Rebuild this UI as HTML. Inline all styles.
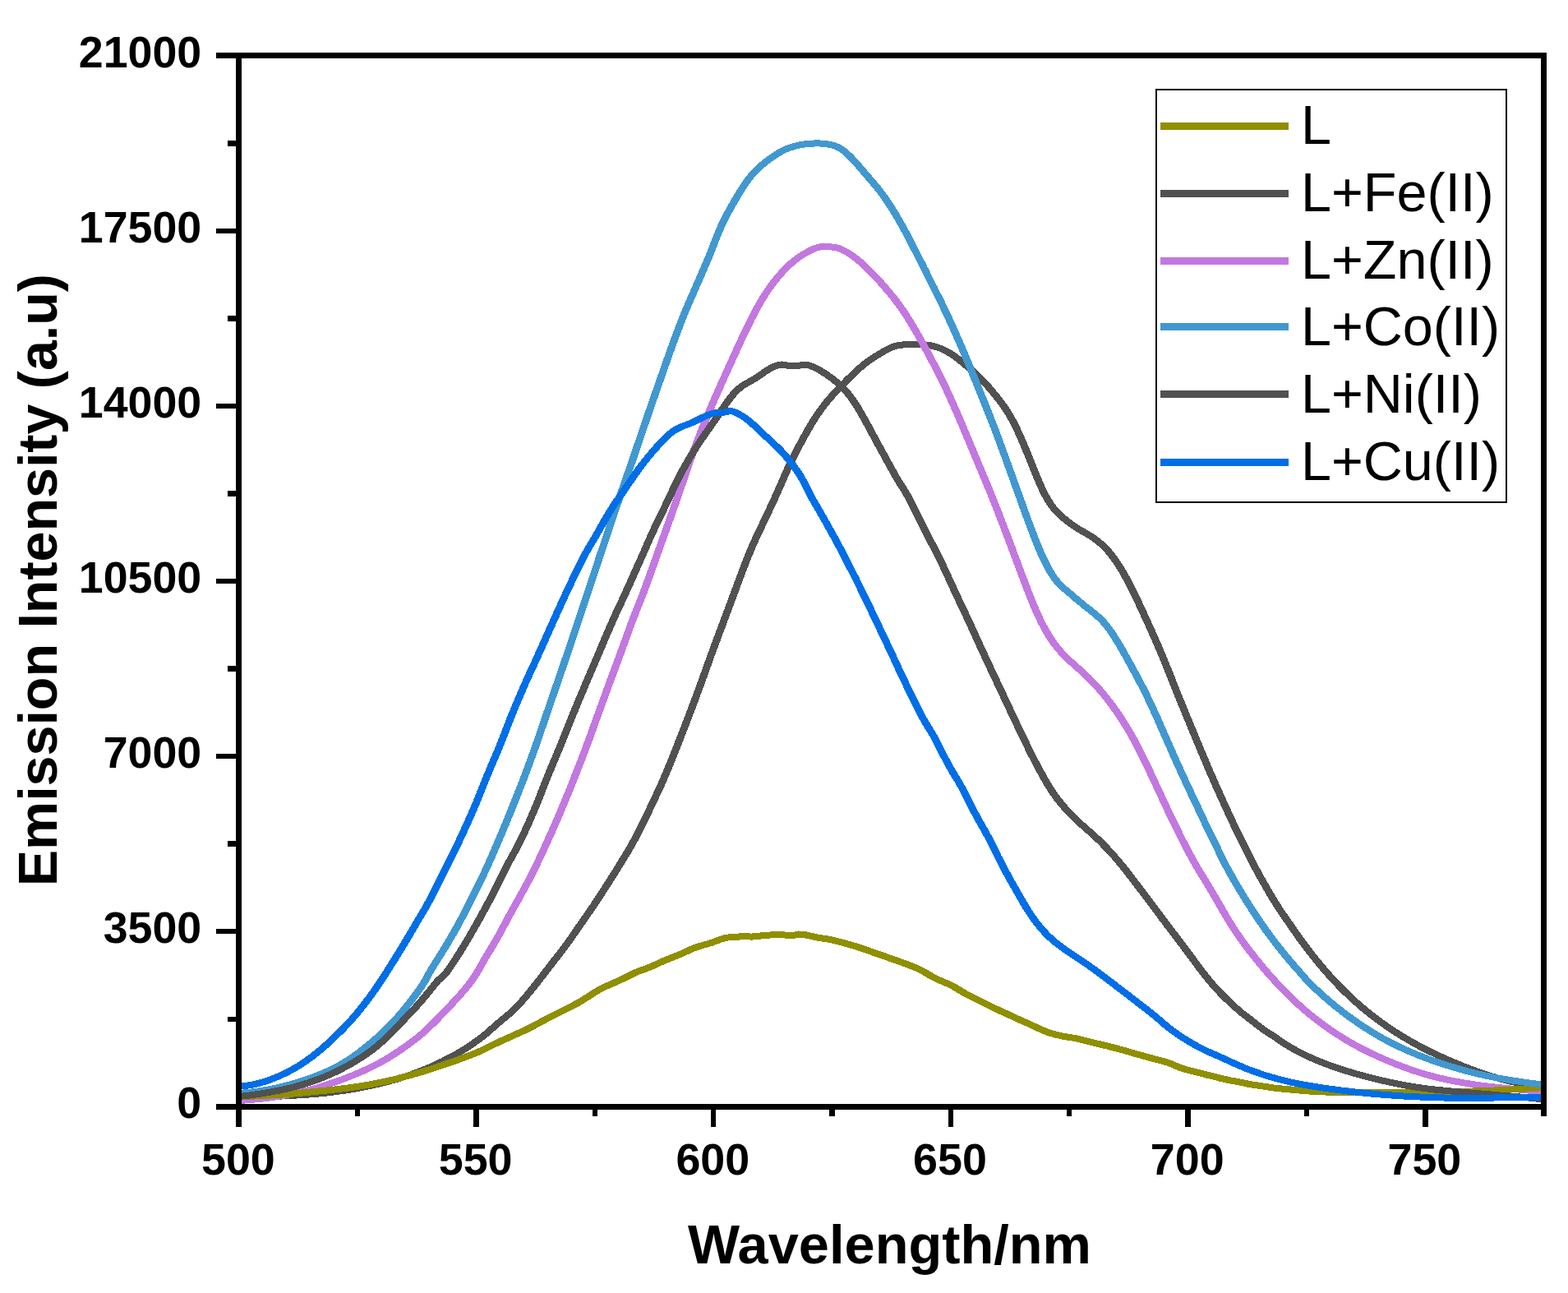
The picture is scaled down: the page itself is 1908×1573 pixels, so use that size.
<!DOCTYPE html>
<html lang="en">
<head>
<meta charset="utf-8">
<title>Emission spectra</title>
<style>
html,body{margin:0;padding:0;background:#fff;}
body{width:1908px;height:1573px;}
svg{display:block;}
text{font-family:"Liberation Sans",sans-serif;fill:#000;}
.tk{font-weight:bold;font-size:53.2px;}
.ttl{font-weight:bold;font-size:66px;}
.lg{font-size:66px;}
</style>
</head>
<body>
<svg width="1908" height="1573" viewBox="0 0 1908 1573" role="img" aria-label="Emission spectra of L and its metal complexes">
<rect width="1908" height="1573" fill="#fff"/>
<defs><clipPath id="pc"><rect x="290.7" y="67.7" width="1587.9" height="1282.6"/></clipPath></defs>
<g clip-path="url(#pc)" shape-rendering="crispEdges"><g transform="scale(1.1375 1)" fill="none" stroke-width="8.0" stroke-linejoin="round" stroke-linecap="butt">
<polyline stroke="#515151" points="250.29,1336.1 252.82,1336.2 255.36,1336.2 257.90,1336.2 260.44,1336.1 262.98,1335.8 265.51,1335.6 268.05,1335.4 270.59,1335.3 273.13,1335.1 275.67,1334.9 278.20,1334.8 280.74,1334.6 283.28,1334.5 285.82,1334.3 288.36,1334.2 290.90,1334.1 293.43,1333.9 295.97,1333.8 298.51,1333.7 301.05,1333.5 303.59,1333.4 306.12,1333.2 308.66,1333.1 311.20,1332.9 313.74,1332.8 316.28,1332.6 318.81,1332.4 321.35,1332.2 323.89,1332.0 326.43,1331.8 328.97,1331.6 331.50,1331.4 334.04,1331.2 336.58,1330.9 339.12,1330.7 341.66,1330.4 344.20,1330.1 346.73,1329.8 349.27,1329.5 351.81,1329.2 354.35,1328.9 356.89,1328.5 359.42,1328.1 361.96,1327.7 364.50,1327.3 367.04,1326.9 369.58,1326.5 372.11,1326.0 374.65,1325.6 377.19,1325.1 379.73,1324.6 382.27,1324.1 384.81,1323.5 387.34,1323.0 389.88,1322.4 392.42,1321.8 394.96,1321.2 397.50,1320.6 400.03,1319.9 402.57,1319.3 405.11,1318.6 407.65,1317.9 410.19,1317.2 412.72,1316.5 415.26,1315.7 417.80,1314.9 420.34,1314.1 422.88,1313.3 425.41,1312.5 427.95,1311.6 430.49,1310.7 433.03,1309.8 435.57,1308.8 438.11,1307.9 440.64,1306.9 443.18,1305.8 445.72,1304.8 448.26,1303.7 450.80,1302.6 453.33,1301.4 455.87,1300.2 458.41,1299.0 460.95,1297.8 463.49,1296.5 466.02,1295.2 468.56,1293.8 471.10,1292.4 473.64,1291.0 476.18,1289.4 478.71,1287.9 481.25,1286.4 483.79,1284.8 486.33,1283.4 488.87,1281.9 491.41,1280.3 493.94,1278.5 496.48,1276.7 499.02,1274.9 501.56,1273.0 504.10,1271.0 506.63,1269.1 509.17,1267.0 511.71,1265.0 514.25,1262.8 516.79,1260.6 519.32,1258.2 521.86,1255.8 524.40,1253.3 526.94,1250.7 529.48,1248.2 532.02,1245.6 534.55,1243.1 537.09,1240.7 539.63,1238.3 542.17,1235.9 544.71,1233.5 547.24,1230.9 549.78,1228.2 552.32,1225.3 554.86,1222.3 557.40,1219.2 559.93,1215.9 562.47,1212.6 565.01,1209.1 567.55,1205.5 570.09,1202.0 572.62,1198.3 575.16,1194.7 577.70,1191.0 580.24,1187.3 582.78,1183.5 585.32,1179.8 587.85,1176.0 590.39,1172.2 592.93,1168.5 595.47,1164.8 598.01,1161.1 600.54,1157.4 603.08,1153.6 605.62,1149.7 608.16,1145.8 610.70,1141.7 613.23,1137.5 615.77,1133.3 618.31,1129.1 620.85,1124.9 623.39,1120.8 625.92,1116.6 628.46,1112.5 631.00,1108.4 633.54,1104.2 636.08,1099.9 638.62,1095.5 641.15,1091.0 643.69,1086.6 646.23,1082.1 648.77,1077.6 651.31,1073.1 653.84,1068.6 656.38,1064.0 658.92,1059.4 661.46,1054.7 664.00,1050.0 666.53,1045.3 669.07,1040.6 671.61,1035.9 674.15,1031.0 676.69,1025.8 679.22,1020.5 681.76,1015.0 684.30,1009.4 686.84,1003.7 689.38,997.8 691.92,991.8 694.45,985.7 696.99,979.6 699.53,973.4 702.07,967.3 704.61,961.2 707.14,954.9 709.68,948.4 712.22,941.6 714.76,934.7 717.30,927.6 719.83,920.5 722.37,913.2 724.91,905.9 727.45,898.6 729.99,891.2 732.53,883.8 735.06,876.3 737.60,868.7 740.14,861.1 742.68,853.4 745.22,845.6 747.75,837.8 750.29,829.9 752.83,821.9 755.37,813.9 757.91,805.8 760.44,797.8 762.98,789.9 765.52,782.1 768.06,774.3 770.60,766.6 773.13,758.9 775.67,751.2 778.21,743.5 780.75,735.8 783.29,728.0 785.83,720.2 788.36,712.4 790.90,704.6 793.44,696.9 795.98,689.3 798.52,681.9 801.05,674.7 803.59,667.7 806.13,661.1 808.67,654.7 811.21,648.5 813.74,642.4 816.28,636.4 818.82,630.3 821.36,624.2 823.90,618.1 826.43,611.9 828.97,605.6 831.51,599.2 834.05,592.7 836.59,586.0 839.13,579.4 841.66,572.9 844.20,566.6 846.74,560.6 849.28,554.8 851.82,549.2 854.35,543.7 856.89,538.3 859.43,533.0 861.97,527.7 864.51,522.6 867.04,517.6 869.58,512.8 872.12,508.2 874.66,503.9 877.20,499.8 879.73,495.9 882.27,492.1 884.81,488.5 887.35,485.0 889.89,481.7 892.43,478.4 894.96,475.3 897.50,472.3 900.04,469.3 902.58,466.4 905.12,463.5 907.65,460.6 910.19,457.8 912.73,455.0 915.27,452.3 917.81,449.6 920.34,447.1 922.88,444.6 925.42,442.3 927.96,440.1 930.50,438.0 933.04,436.1 935.57,434.2 938.11,432.5 940.65,430.7 943.19,429.0 945.73,427.3 948.26,425.7 950.80,424.2 953.34,422.8 955.88,421.7 958.42,420.7 960.95,420.1 963.49,419.7 966.03,419.5 968.57,419.2 971.11,418.9 973.64,418.7 976.18,418.7 978.72,418.8 981.26,419.0 983.80,419.1 986.34,419.3 988.87,419.4 991.41,419.6 993.95,420.0 996.49,420.6 999.03,421.3 1001.56,422.1 1004.10,423.0 1006.64,424.1 1009.18,425.4 1011.72,426.8 1014.25,428.4 1016.79,430.1 1019.33,432.0 1021.87,434.0 1024.41,436.2 1026.94,438.5 1029.48,440.8 1032.02,443.2 1034.56,445.6 1037.10,448.1 1039.64,450.6 1042.17,453.2 1044.71,455.8 1047.25,458.5 1049.79,461.4 1052.33,464.4 1054.86,467.5 1057.40,470.8 1059.94,474.1 1062.48,477.6 1065.02,481.1 1067.55,484.7 1070.09,488.4 1072.63,492.3 1075.17,496.4 1077.71,500.8 1080.25,505.6 1082.78,510.8 1085.32,516.3 1087.86,522.2 1090.40,528.4 1092.94,534.9 1095.47,541.7 1098.01,548.6 1100.55,555.8 1103.09,563.0 1105.63,570.3 1108.16,577.4 1110.70,584.3 1113.24,590.9 1115.78,597.1 1118.32,602.8 1120.85,607.9 1123.39,612.5 1125.93,616.6 1128.47,620.1 1131.01,623.3 1133.55,626.1 1136.08,628.7 1138.62,631.1 1141.16,633.5 1143.70,635.7 1146.24,637.8 1148.77,639.8 1151.31,641.8 1153.85,643.6 1156.39,645.3 1158.93,647.0 1161.46,648.6 1164.00,650.4 1166.54,652.1 1169.08,654.0 1171.62,656.1 1174.15,658.2 1176.69,660.6 1179.23,663.1 1181.77,665.9 1184.31,668.9 1186.85,672.2 1189.38,675.8 1191.92,679.7 1194.46,683.8 1197.00,688.2 1199.54,692.8 1202.07,697.7 1204.61,702.9 1207.15,708.2 1209.69,713.8 1212.23,719.6 1214.76,725.6 1217.30,731.7 1219.84,737.8 1222.38,744.1 1224.92,750.4 1227.45,756.7 1229.99,763.0 1232.53,769.4 1235.07,775.9 1237.61,782.5 1240.15,789.2 1242.68,796.0 1245.22,803.0 1247.76,810.1 1250.30,817.3 1252.84,824.5 1255.37,831.8 1257.91,839.0 1260.45,846.3 1262.99,853.4 1265.53,860.5 1268.06,867.5 1270.60,874.5 1273.14,881.5 1275.68,888.5 1278.22,895.4 1280.76,902.4 1283.29,909.3 1285.83,916.3 1288.37,923.1 1290.91,930.0 1293.45,936.7 1295.98,943.4 1298.52,950.0 1301.06,956.5 1303.60,962.9 1306.14,969.3 1308.67,975.7 1311.21,982.0 1313.75,988.3 1316.29,994.6 1318.83,1000.8 1321.36,1006.9 1323.90,1012.9 1326.44,1018.9 1328.98,1024.8 1331.52,1030.6 1334.06,1036.3 1336.59,1042.0 1339.13,1047.6 1341.67,1053.1 1344.21,1058.4 1346.75,1063.7 1349.28,1069.0 1351.82,1074.1 1354.36,1079.2 1356.90,1084.1 1359.44,1089.1 1361.97,1093.9 1364.51,1098.6 1367.05,1103.2 1369.59,1107.7 1372.13,1111.9 1374.66,1116.0 1377.20,1120.1 1379.74,1124.3 1382.28,1128.5 1384.82,1132.7 1387.36,1136.8 1389.89,1140.9 1392.43,1144.8 1394.97,1148.8 1397.51,1152.6 1400.05,1156.4 1402.58,1160.1 1405.12,1163.8 1407.66,1167.4 1410.20,1170.9 1412.74,1174.4 1415.27,1177.8 1417.81,1181.2 1420.35,1184.5 1422.89,1187.7 1425.43,1190.9 1427.96,1194.0 1430.50,1197.1 1433.04,1200.1 1435.58,1203.0 1438.12,1205.9 1440.66,1208.7 1443.19,1211.4 1445.73,1214.1 1448.27,1216.8 1450.81,1219.4 1453.35,1221.9 1455.88,1224.4 1458.42,1226.9 1460.96,1229.3 1463.50,1231.6 1466.04,1233.9 1468.57,1236.2 1471.11,1238.4 1473.65,1240.5 1476.19,1242.6 1478.73,1244.7 1481.27,1246.8 1483.80,1248.8 1486.34,1250.7 1488.88,1252.7 1491.42,1254.6 1493.96,1256.4 1496.49,1258.3 1499.03,1260.1 1501.57,1261.8 1504.11,1263.5 1506.65,1265.2 1509.18,1266.9 1511.72,1268.5 1514.26,1270.1 1516.80,1271.7 1519.34,1273.3 1521.87,1274.8 1524.41,1276.2 1526.95,1277.7 1529.49,1279.1 1532.03,1280.5 1534.57,1281.9 1537.10,1283.3 1539.64,1284.6 1542.18,1285.9 1544.72,1287.2 1547.26,1288.5 1549.79,1289.8 1552.33,1291.0 1554.87,1292.2 1557.41,1293.4 1559.95,1294.6 1562.48,1295.8 1565.02,1297.0 1567.56,1298.1 1570.10,1299.2 1572.64,1300.3 1575.17,1301.4 1577.71,1302.5 1580.25,1303.5 1582.79,1304.5 1585.33,1305.5 1587.87,1306.5 1590.40,1307.5 1592.94,1308.4 1595.48,1309.3 1598.02,1310.2 1600.56,1311.0 1603.09,1311.8 1605.63,1312.6 1608.17,1313.4 1610.71,1314.1 1613.25,1314.8 1615.78,1315.5 1618.32,1316.2 1620.86,1316.8 1623.40,1317.5 1625.94,1318.1 1628.48,1318.7 1631.01,1319.3 1633.55,1319.9 1636.09,1320.5 1638.63,1321.0 1641.17,1321.6 1643.70,1322.2 1646.24,1322.8 1648.78,1323.4 1651.32,1323.8 1653.86,1323.8 1656.39,1323.6"/>
<polyline stroke="#C278E0" points="250.29,1338.8 252.82,1338.8 255.36,1338.8 257.90,1338.8 260.44,1338.7 262.98,1338.4 265.51,1338.2 268.05,1337.9 270.59,1337.7 273.13,1337.4 275.67,1337.1 278.20,1336.8 280.74,1336.5 283.28,1336.1 285.82,1335.8 288.36,1335.4 290.90,1335.0 293.43,1334.6 295.97,1334.1 298.51,1333.7 301.05,1333.2 303.59,1332.7 306.12,1332.2 308.66,1331.6 311.20,1331.1 313.74,1330.5 316.28,1329.9 318.81,1329.2 321.35,1328.6 323.89,1327.9 326.43,1327.2 328.97,1326.5 331.50,1325.7 334.04,1325.0 336.58,1324.2 339.12,1323.4 341.66,1322.5 344.20,1321.6 346.73,1320.7 349.27,1319.8 351.81,1318.9 354.35,1317.9 356.89,1316.9 359.42,1315.9 361.96,1314.9 364.50,1313.8 367.04,1312.8 369.58,1311.7 372.11,1310.6 374.65,1309.4 377.19,1308.3 379.73,1307.1 382.27,1305.9 384.81,1304.6 387.34,1303.4 389.88,1302.1 392.42,1300.8 394.96,1299.4 397.50,1298.0 400.03,1296.6 402.57,1295.1 405.11,1293.5 407.65,1292.0 410.19,1290.3 412.72,1288.7 415.26,1287.0 417.80,1285.2 420.34,1283.4 422.88,1281.5 425.41,1279.6 427.95,1277.7 430.49,1275.7 433.03,1273.7 435.57,1271.6 438.11,1269.5 440.64,1267.4 443.18,1265.2 445.72,1263.0 448.26,1260.6 450.80,1258.2 453.33,1255.7 455.87,1253.1 458.41,1250.4 460.95,1247.6 463.49,1244.8 466.02,1241.9 468.56,1239.0 471.10,1236.0 473.64,1233.0 476.18,1230.0 478.71,1226.9 481.25,1223.8 483.79,1220.7 486.33,1217.6 488.87,1214.5 491.41,1211.4 493.94,1208.1 496.48,1204.8 499.02,1201.3 501.56,1197.6 504.10,1193.8 506.63,1189.7 509.17,1185.2 511.71,1180.4 514.25,1175.3 516.79,1170.2 519.32,1165.2 521.86,1160.4 524.40,1155.7 526.94,1150.9 529.48,1146.0 532.02,1140.9 534.55,1135.7 537.09,1130.3 539.63,1124.9 542.17,1119.5 544.71,1114.1 547.24,1108.9 549.78,1103.7 552.32,1098.6 554.86,1093.5 557.40,1088.3 559.93,1083.0 562.47,1077.7 565.01,1072.2 567.55,1066.6 570.09,1060.9 572.62,1055.1 575.16,1049.1 577.70,1043.1 580.24,1036.9 582.78,1030.6 585.32,1024.3 587.85,1017.9 590.39,1011.4 592.93,1004.9 595.47,998.3 598.01,991.6 600.54,984.8 603.08,977.9 605.62,970.9 608.16,963.9 610.70,956.7 613.23,949.5 615.77,942.2 618.31,934.9 620.85,927.5 623.39,920.0 625.92,912.4 628.46,904.6 631.00,896.8 633.54,888.8 636.08,880.7 638.62,872.7 641.15,864.7 643.69,856.8 646.23,848.8 648.77,840.9 651.31,833.1 653.84,825.3 656.38,817.5 658.92,809.8 661.46,802.0 664.00,794.2 666.53,786.2 669.07,778.2 671.61,770.2 674.15,762.4 676.69,754.6 679.22,747.2 681.76,739.9 684.30,732.7 686.84,725.3 689.38,717.8 691.92,709.9 694.45,702.0 696.99,693.9 699.53,685.8 702.07,677.7 704.61,669.6 707.14,661.5 709.68,653.5 712.22,645.4 714.76,637.3 717.30,629.3 719.83,621.2 722.37,613.0 724.91,604.7 727.45,596.3 729.99,587.8 732.53,579.2 735.06,570.7 737.60,562.5 740.14,554.5 742.68,546.7 745.22,539.0 747.75,531.5 750.29,524.1 752.83,516.9 755.37,509.7 757.91,502.7 760.44,495.9 762.98,489.1 765.52,482.5 768.06,475.9 770.60,469.5 773.13,463.1 775.67,456.7 778.21,450.3 780.75,444.0 783.29,437.6 785.83,431.2 788.36,424.8 790.90,418.5 793.44,412.3 795.98,406.2 798.52,400.2 801.05,394.2 803.59,388.4 806.13,382.7 808.67,377.3 811.21,372.0 813.74,367.0 816.28,362.2 818.82,357.6 821.36,353.3 823.90,349.2 826.43,345.3 828.97,341.6 831.51,338.0 834.05,334.6 836.59,331.3 839.13,328.2 841.66,325.3 844.20,322.5 846.74,319.9 849.28,317.5 851.82,315.3 854.35,313.2 856.89,311.2 859.43,309.4 861.97,307.7 864.51,306.1 867.04,304.6 869.58,303.2 872.12,302.0 874.66,301.1 877.20,300.5 879.73,300.3 882.27,300.3 884.81,300.4 887.35,300.4 889.89,300.5 892.43,300.8 894.96,301.3 897.50,302.2 900.04,303.3 902.58,304.7 905.12,306.2 907.65,307.9 910.19,309.8 912.73,311.8 915.27,314.0 917.81,316.4 920.34,318.8 922.88,321.4 925.42,324.1 927.96,326.8 930.50,329.6 933.04,332.5 935.57,335.5 938.11,338.6 940.65,341.7 943.19,345.0 945.73,348.3 948.26,351.7 950.80,355.1 953.34,358.6 955.88,362.2 958.42,365.9 960.95,369.7 963.49,373.7 966.03,377.9 968.57,382.2 971.11,386.7 973.64,391.4 976.18,396.2 978.72,401.0 981.26,406.0 983.80,411.1 986.34,416.3 988.87,421.6 991.41,426.9 993.95,432.3 996.49,437.7 999.03,443.2 1001.56,448.7 1004.10,454.3 1006.64,460.0 1009.18,465.9 1011.72,472.0 1014.25,478.2 1016.79,484.5 1019.33,490.9 1021.87,497.5 1024.41,504.2 1026.94,510.9 1029.48,517.7 1032.02,524.5 1034.56,531.4 1037.10,538.2 1039.64,545.1 1042.17,552.1 1044.71,559.0 1047.25,566.0 1049.79,572.9 1052.33,579.8 1054.86,586.7 1057.40,593.6 1059.94,600.7 1062.48,607.8 1065.02,615.1 1067.55,622.4 1070.09,629.9 1072.63,637.3 1075.17,644.9 1077.71,652.5 1080.25,660.2 1082.78,668.0 1085.32,675.7 1087.86,683.4 1090.40,691.2 1092.94,698.9 1095.47,706.5 1098.01,714.1 1100.55,721.6 1103.09,728.8 1105.63,735.9 1108.16,742.6 1110.70,749.1 1113.24,755.2 1115.78,760.9 1118.32,766.2 1120.85,771.2 1123.39,775.9 1125.93,780.2 1128.47,784.1 1131.01,787.8 1133.55,791.3 1136.08,794.5 1138.62,797.5 1141.16,800.4 1143.70,803.1 1146.24,805.8 1148.77,808.4 1151.31,810.9 1153.85,813.5 1156.39,816.0 1158.93,818.7 1161.46,821.4 1164.00,824.1 1166.54,827.0 1169.08,830.0 1171.62,833.0 1174.15,836.2 1176.69,839.5 1179.23,842.9 1181.77,846.4 1184.31,850.0 1186.85,853.7 1189.38,857.6 1191.92,861.6 1194.46,865.7 1197.00,869.9 1199.54,874.3 1202.07,878.8 1204.61,883.5 1207.15,888.2 1209.69,893.2 1212.23,898.3 1214.76,903.7 1217.30,909.1 1219.84,914.8 1222.38,920.6 1224.92,926.5 1227.45,932.5 1229.99,938.6 1232.53,944.8 1235.07,951.0 1237.61,957.2 1240.15,963.4 1242.68,969.6 1245.22,975.8 1247.76,982.0 1250.30,988.1 1252.84,994.1 1255.37,1000.1 1257.91,1006.1 1260.45,1011.9 1262.99,1017.8 1265.53,1023.5 1268.06,1029.1 1270.60,1034.6 1273.14,1040.0 1275.68,1045.3 1278.22,1050.4 1280.76,1055.3 1283.29,1060.2 1285.83,1064.9 1288.37,1069.6 1290.91,1074.3 1293.45,1079.1 1295.98,1083.9 1298.52,1088.9 1301.06,1093.8 1303.60,1098.8 1306.14,1103.8 1308.67,1108.8 1311.21,1113.8 1313.75,1118.6 1316.29,1123.3 1318.83,1127.9 1321.36,1132.4 1323.90,1136.6 1326.44,1140.8 1328.98,1144.8 1331.52,1148.7 1334.06,1152.6 1336.59,1156.4 1339.13,1160.1 1341.67,1163.8 1344.21,1167.4 1346.75,1170.9 1349.28,1174.4 1351.82,1177.9 1354.36,1181.3 1356.90,1184.7 1359.44,1187.9 1361.97,1191.1 1364.51,1194.2 1367.05,1197.1 1369.59,1200.2 1372.13,1203.2 1374.66,1206.2 1377.20,1209.1 1379.74,1212.0 1382.28,1214.8 1384.82,1217.6 1387.36,1220.3 1389.89,1223.0 1392.43,1225.6 1394.97,1228.2 1397.51,1230.6 1400.05,1233.0 1402.58,1235.4 1405.12,1237.6 1407.66,1239.9 1410.20,1242.1 1412.74,1244.3 1415.27,1246.4 1417.81,1248.5 1420.35,1250.5 1422.89,1252.6 1425.43,1254.5 1427.96,1256.5 1430.50,1258.4 1433.04,1260.2 1435.58,1262.1 1438.12,1263.9 1440.66,1265.6 1443.19,1267.3 1445.73,1269.0 1448.27,1270.6 1450.81,1272.2 1453.35,1273.8 1455.88,1275.3 1458.42,1276.8 1460.96,1278.2 1463.50,1279.7 1466.04,1281.1 1468.57,1282.4 1471.11,1283.8 1473.65,1285.1 1476.19,1286.4 1478.73,1287.7 1481.27,1288.9 1483.80,1290.1 1486.34,1291.4 1488.88,1292.5 1491.42,1293.7 1493.96,1294.9 1496.49,1296.0 1499.03,1297.1 1501.57,1298.2 1504.11,1299.2 1506.65,1300.3 1509.18,1301.3 1511.72,1302.3 1514.26,1303.2 1516.80,1304.1 1519.34,1305.1 1521.87,1305.9 1524.41,1306.8 1526.95,1307.6 1529.49,1308.4 1532.03,1309.2 1534.57,1310.0 1537.10,1310.7 1539.64,1311.4 1542.18,1312.1 1544.72,1312.7 1547.26,1313.4 1549.79,1314.0 1552.33,1314.6 1554.87,1315.1 1557.41,1315.7 1559.95,1316.2 1562.48,1316.7 1565.02,1317.2 1567.56,1317.7 1570.10,1318.2 1572.64,1318.6 1575.17,1319.1 1577.71,1319.5 1580.25,1319.9 1582.79,1320.3 1585.33,1320.7 1587.87,1321.1 1590.40,1321.4 1592.94,1321.8 1595.48,1322.1 1598.02,1322.4 1600.56,1322.8 1603.09,1323.1 1605.63,1323.4 1608.17,1323.7 1610.71,1323.9 1613.25,1324.2 1615.78,1324.5 1618.32,1324.8 1620.86,1325.0 1623.40,1325.3 1625.94,1325.6 1628.48,1325.8 1631.01,1326.1 1633.55,1326.4 1636.09,1326.7 1638.63,1326.9 1641.17,1327.2 1643.70,1327.5 1646.24,1327.8 1648.78,1328.1 1651.32,1328.4 1653.86,1328.4 1656.39,1328.4"/>
<polyline stroke="#8F8F00" points="250.29,1334.1 252.82,1334.0 255.36,1334.0 257.90,1334.0 260.44,1334.0 262.98,1333.9 265.51,1333.8 268.05,1333.7 270.59,1333.6 273.13,1333.5 275.67,1333.4 278.20,1333.2 280.74,1333.1 283.28,1332.9 285.82,1332.8 288.36,1332.6 290.90,1332.4 293.43,1332.3 295.97,1332.1 298.51,1331.9 301.05,1331.6 303.59,1331.4 306.12,1331.2 308.66,1330.9 311.20,1330.7 313.74,1330.5 316.28,1330.2 318.81,1329.9 321.35,1329.7 323.89,1329.4 326.43,1329.1 328.97,1328.8 331.50,1328.6 334.04,1328.3 336.58,1328.0 339.12,1327.7 341.66,1327.4 344.20,1327.1 346.73,1326.8 349.27,1326.5 351.81,1326.2 354.35,1325.9 356.89,1325.6 359.42,1325.3 361.96,1324.9 364.50,1324.6 367.04,1324.2 369.58,1323.9 372.11,1323.5 374.65,1323.1 377.19,1322.7 379.73,1322.3 382.27,1321.9 384.81,1321.5 387.34,1321.0 389.88,1320.5 392.42,1320.0 394.96,1319.5 397.50,1319.0 400.03,1318.4 402.57,1317.9 405.11,1317.3 407.65,1316.7 410.19,1316.1 412.72,1315.5 415.26,1314.8 417.80,1314.1 420.34,1313.5 422.88,1312.8 425.41,1312.1 427.95,1311.3 430.49,1310.6 433.03,1309.8 435.57,1309.1 438.11,1308.3 440.64,1307.5 443.18,1306.7 445.72,1305.9 448.26,1305.0 450.80,1304.2 453.33,1303.3 455.87,1302.4 458.41,1301.5 460.95,1300.6 463.49,1299.6 466.02,1298.6 468.56,1297.6 471.10,1296.7 473.64,1295.7 476.18,1294.7 478.71,1293.7 481.25,1292.7 483.79,1291.7 486.33,1290.7 488.87,1289.7 491.41,1288.6 493.94,1287.6 496.48,1286.5 499.02,1285.4 501.56,1284.3 504.10,1283.2 506.63,1282.1 509.17,1280.9 511.71,1279.7 514.25,1278.4 516.79,1277.0 519.32,1275.7 521.86,1274.3 524.40,1272.8 526.94,1271.4 529.48,1270.0 532.02,1268.6 534.55,1267.2 537.09,1265.9 539.63,1264.6 542.17,1263.3 544.71,1262.0 547.24,1260.7 549.78,1259.4 552.32,1258.1 554.86,1256.8 557.40,1255.5 559.93,1254.2 562.47,1252.9 565.01,1251.5 567.55,1250.0 570.09,1248.5 572.62,1246.9 575.16,1245.3 577.70,1243.8 580.24,1242.2 582.78,1240.7 585.32,1239.2 587.85,1237.7 590.39,1236.3 592.93,1234.9 595.47,1233.4 598.01,1231.9 600.54,1230.5 603.08,1229.0 605.62,1227.6 608.16,1226.1 610.70,1224.7 613.23,1223.2 615.77,1221.6 618.31,1220.0 620.85,1218.4 623.39,1216.6 625.92,1214.8 628.46,1213.0 631.00,1211.1 633.54,1209.3 636.08,1207.4 638.62,1205.6 641.15,1203.9 643.69,1202.3 646.23,1200.9 648.77,1199.6 651.31,1198.4 653.84,1197.2 656.38,1195.9 658.92,1194.6 661.46,1193.3 664.00,1192.0 666.53,1190.7 669.07,1189.3 671.61,1187.8 674.15,1186.3 676.69,1184.9 679.22,1183.5 681.76,1182.2 684.30,1181.1 686.84,1180.0 689.38,1179.1 691.92,1178.0 694.45,1176.9 696.99,1175.7 699.53,1174.4 702.07,1173.1 704.61,1171.8 707.14,1170.5 709.68,1169.2 712.22,1168.0 714.76,1166.8 717.30,1165.7 719.83,1164.5 722.37,1163.3 724.91,1162.2 727.45,1161.0 729.99,1159.8 732.53,1158.5 735.06,1157.1 737.60,1155.7 740.14,1154.4 742.68,1153.3 745.22,1152.3 747.75,1151.4 750.29,1150.5 752.83,1149.6 755.37,1148.8 757.91,1148.0 760.44,1147.1 762.98,1146.1 765.52,1145.1 768.06,1143.9 770.60,1142.8 773.13,1141.9 775.67,1141.2 778.21,1140.6 780.75,1140.3 783.29,1140.2 785.83,1140.1 788.36,1139.9 790.90,1139.5 793.44,1139.1 795.98,1138.8 798.52,1139.0 801.05,1139.4 803.59,1139.6 806.13,1139.4 808.67,1139.1 811.21,1138.8 813.74,1138.5 816.28,1138.1 818.82,1137.8 821.36,1137.6 823.90,1137.5 826.43,1137.4 828.97,1137.4 831.51,1137.3 834.05,1137.4 836.59,1137.4 839.13,1137.5 841.66,1137.6 844.20,1137.7 846.74,1137.9 849.28,1137.8 851.82,1137.1 854.35,1136.5 856.89,1136.6 859.43,1137.0 861.97,1137.4 864.51,1138.0 867.04,1138.7 869.58,1139.3 872.12,1140.0 874.66,1140.6 877.20,1141.1 879.73,1141.5 882.27,1141.8 884.81,1142.3 887.35,1142.9 889.89,1143.5 892.43,1144.2 894.96,1144.9 897.50,1145.6 900.04,1146.4 902.58,1147.1 905.12,1147.9 907.65,1148.7 910.19,1149.6 912.73,1150.4 915.27,1151.3 917.81,1152.2 920.34,1153.1 922.88,1154.1 925.42,1155.1 927.96,1156.1 930.50,1157.1 933.04,1158.1 935.57,1159.2 938.11,1160.2 940.65,1161.2 943.19,1162.2 945.73,1163.2 948.26,1164.2 950.80,1165.2 953.34,1166.3 955.88,1167.3 958.42,1168.3 960.95,1169.3 963.49,1170.3 966.03,1171.3 968.57,1172.4 971.11,1173.5 973.64,1174.7 976.18,1175.8 978.72,1176.9 981.26,1178.1 983.80,1179.4 986.34,1180.9 988.87,1182.5 991.41,1184.2 993.95,1186.0 996.49,1187.7 999.03,1189.3 1001.56,1190.8 1004.10,1192.1 1006.64,1193.3 1009.18,1194.5 1011.72,1195.7 1014.25,1196.9 1016.79,1198.3 1019.33,1199.8 1021.87,1201.4 1024.41,1203.1 1026.94,1204.9 1029.48,1206.6 1032.02,1208.3 1034.56,1209.8 1037.10,1211.3 1039.64,1212.8 1042.17,1214.2 1044.71,1215.7 1047.25,1217.1 1049.79,1218.5 1052.33,1220.0 1054.86,1221.4 1057.40,1222.9 1059.94,1224.3 1062.48,1225.7 1065.02,1227.1 1067.55,1228.5 1070.09,1229.8 1072.63,1231.1 1075.17,1232.4 1077.71,1233.7 1080.25,1235.1 1082.78,1236.4 1085.32,1237.8 1087.86,1239.1 1090.40,1240.4 1092.94,1241.7 1095.47,1243.0 1098.01,1244.2 1100.55,1245.5 1103.09,1246.8 1105.63,1248.2 1108.16,1249.6 1110.70,1250.9 1113.24,1252.2 1115.78,1253.5 1118.32,1254.7 1120.85,1255.8 1123.39,1256.7 1125.93,1257.6 1128.47,1258.4 1131.01,1259.1 1133.55,1259.7 1136.08,1260.4 1138.62,1261.0 1141.16,1261.5 1143.70,1261.9 1146.24,1262.3 1148.77,1262.8 1151.31,1263.4 1153.85,1264.0 1156.39,1264.7 1158.93,1265.4 1161.46,1266.1 1164.00,1266.9 1166.54,1267.6 1169.08,1268.3 1171.62,1269.0 1174.15,1269.7 1176.69,1270.4 1179.23,1271.1 1181.77,1271.8 1184.31,1272.5 1186.85,1273.2 1189.38,1274.0 1191.92,1274.7 1194.46,1275.4 1197.00,1276.2 1199.54,1276.9 1202.07,1277.7 1204.61,1278.6 1207.15,1279.4 1209.69,1280.3 1212.23,1281.1 1214.76,1282.0 1217.30,1282.7 1219.84,1283.6 1222.38,1284.4 1224.92,1285.2 1227.45,1286.0 1229.99,1286.8 1232.53,1287.5 1235.07,1288.3 1237.61,1289.1 1240.15,1289.9 1242.68,1290.6 1245.22,1291.3 1247.76,1292.1 1250.30,1293.1 1252.84,1294.3 1255.37,1295.5 1257.91,1296.8 1260.45,1298.0 1262.99,1299.1 1265.53,1300.1 1268.06,1300.9 1270.60,1301.7 1273.14,1302.5 1275.68,1303.2 1278.22,1303.9 1280.76,1304.6 1283.29,1305.3 1285.83,1306.0 1288.37,1306.8 1290.91,1307.6 1293.45,1308.3 1295.98,1309.0 1298.52,1309.7 1301.06,1310.4 1303.60,1311.2 1306.14,1311.9 1308.67,1312.6 1311.21,1313.2 1313.75,1313.8 1316.29,1314.4 1318.83,1314.9 1321.36,1315.5 1323.90,1316.0 1326.44,1316.6 1328.98,1317.2 1331.52,1317.8 1334.06,1318.4 1336.59,1319.0 1339.13,1319.5 1341.67,1319.9 1344.21,1320.3 1346.75,1320.8 1349.28,1321.2 1351.82,1321.6 1354.36,1322.0 1356.90,1322.5 1359.44,1322.9 1361.97,1323.4 1364.51,1323.8 1367.05,1324.1 1369.59,1324.4 1372.13,1324.6 1374.66,1324.9 1377.20,1325.2 1379.74,1325.4 1382.28,1325.7 1384.82,1326.0 1387.36,1326.3 1389.89,1326.5 1392.43,1326.8 1394.97,1327.0 1397.51,1327.3 1400.05,1327.5 1402.58,1327.6 1405.12,1327.8 1407.66,1328.0 1410.20,1328.1 1412.74,1328.3 1415.27,1328.4 1417.81,1328.5 1420.35,1328.6 1422.89,1328.7 1425.43,1328.7 1427.96,1328.8 1430.50,1328.8 1433.04,1328.9 1435.58,1328.9 1438.12,1328.9 1440.66,1329.0 1443.19,1329.0 1445.73,1329.0 1448.27,1329.1 1450.81,1329.1 1453.35,1329.1 1455.88,1329.1 1458.42,1329.2 1460.96,1329.2 1463.50,1329.2 1466.04,1329.2 1468.57,1329.2 1471.11,1329.2 1473.65,1329.2 1476.19,1329.2 1478.73,1329.2 1481.27,1329.2 1483.80,1329.2 1486.34,1329.2 1488.88,1329.2 1491.42,1329.2 1493.96,1329.2 1496.49,1329.2 1499.03,1329.1 1501.57,1329.1 1504.11,1329.1 1506.65,1329.0 1509.18,1329.0 1511.72,1329.0 1514.26,1328.9 1516.80,1328.9 1519.34,1328.8 1521.87,1328.8 1524.41,1328.7 1526.95,1328.7 1529.49,1328.6 1532.03,1328.6 1534.57,1328.5 1537.10,1328.4 1539.64,1328.4 1542.18,1328.3 1544.72,1328.3 1547.26,1328.2 1549.79,1328.2 1552.33,1328.1 1554.87,1328.1 1557.41,1328.0 1559.95,1327.9 1562.48,1327.9 1565.02,1327.8 1567.56,1327.8 1570.10,1327.7 1572.64,1327.6 1575.17,1327.5 1577.71,1327.4 1580.25,1327.3 1582.79,1327.2 1585.33,1327.1 1587.87,1327.0 1590.40,1326.9 1592.94,1326.8 1595.48,1326.6 1598.02,1326.5 1600.56,1326.4 1603.09,1326.3 1605.63,1326.1 1608.17,1326.0 1610.71,1325.8 1613.25,1325.7 1615.78,1325.6 1618.32,1325.4 1620.86,1325.3 1623.40,1325.1 1625.94,1324.9 1628.48,1324.8 1631.01,1324.6 1633.55,1324.4 1636.09,1324.3 1638.63,1324.1 1641.17,1323.9 1643.70,1323.7 1646.24,1323.5 1648.78,1323.4 1651.32,1323.2 1653.86,1323.2 1656.39,1323.2"/>
<polyline stroke="#4198D0" points="250.29,1330.0 252.82,1329.9 255.36,1329.8 257.90,1329.7 260.44,1329.5 262.98,1329.3 265.51,1329.0 268.05,1328.7 270.59,1328.4 273.13,1328.0 275.67,1327.6 278.20,1327.2 280.74,1326.7 283.28,1326.2 285.82,1325.7 288.36,1325.2 290.90,1324.6 293.43,1324.0 295.97,1323.4 298.51,1322.7 301.05,1322.0 303.59,1321.3 306.12,1320.6 308.66,1319.8 311.20,1319.1 313.74,1318.2 316.28,1317.4 318.81,1316.6 321.35,1315.7 323.89,1314.7 326.43,1313.8 328.97,1312.8 331.50,1311.8 334.04,1310.7 336.58,1309.7 339.12,1308.5 341.66,1307.4 344.20,1306.2 346.73,1305.0 349.27,1303.7 351.81,1302.4 354.35,1301.0 356.89,1299.6 359.42,1298.1 361.96,1296.6 364.50,1295.0 367.04,1293.3 369.58,1291.6 372.11,1289.7 374.65,1287.9 377.19,1285.9 379.73,1283.9 382.27,1281.8 384.81,1279.6 387.34,1277.4 389.88,1275.1 392.42,1272.8 394.96,1270.4 397.50,1268.0 400.03,1265.6 402.57,1263.1 405.11,1260.5 407.65,1257.9 410.19,1255.2 412.72,1252.5 415.26,1249.6 417.80,1246.6 420.34,1243.6 422.88,1240.4 425.41,1237.2 427.95,1233.9 430.49,1230.5 433.03,1227.0 435.57,1223.5 438.11,1219.8 440.64,1216.1 443.18,1212.3 445.72,1208.4 448.26,1204.4 450.80,1200.2 453.33,1195.8 455.87,1190.9 458.41,1185.5 460.95,1180.3 463.49,1175.5 466.02,1170.9 468.56,1166.3 471.10,1161.8 473.64,1157.1 476.18,1152.4 478.71,1147.6 481.25,1142.7 483.79,1137.7 486.33,1132.7 488.87,1127.6 491.41,1122.3 493.94,1116.9 496.48,1111.4 499.02,1105.8 501.56,1100.2 504.10,1094.5 506.63,1088.8 509.17,1083.0 511.71,1077.1 514.25,1071.1 516.79,1065.1 519.32,1058.9 521.86,1052.6 524.40,1046.2 526.94,1039.6 529.48,1032.9 532.02,1026.2 534.55,1019.5 537.09,1012.6 539.63,1005.7 542.17,998.8 544.71,991.7 547.24,984.6 549.78,977.4 552.32,970.2 554.86,962.9 557.40,955.5 559.93,948.0 562.47,940.4 565.01,932.7 567.55,924.9 570.09,916.9 572.62,908.9 575.16,900.6 577.70,892.3 580.24,883.8 582.78,875.3 585.32,866.8 587.85,858.4 590.39,850.0 592.93,841.6 595.47,833.2 598.01,824.8 600.54,816.5 603.08,808.1 605.62,799.6 608.16,791.1 610.70,782.5 613.23,773.9 615.77,765.3 618.31,756.6 620.85,748.0 623.39,739.3 625.92,730.6 628.46,721.9 631.00,713.2 633.54,704.5 636.08,695.7 638.62,687.0 641.15,678.3 643.69,669.7 646.23,661.2 648.77,652.6 651.31,644.0 653.84,635.4 656.38,626.8 658.92,618.1 661.46,609.6 664.00,601.2 666.53,592.9 669.07,584.7 671.61,576.4 674.15,568.1 676.69,559.7 679.22,551.3 681.76,542.7 684.30,534.2 686.84,525.7 689.38,517.3 691.92,508.8 694.45,500.4 696.99,492.1 699.53,483.7 702.07,475.5 704.61,467.2 707.14,459.0 709.68,450.7 712.22,442.4 714.76,434.2 717.30,426.1 719.83,418.1 722.37,410.2 724.91,402.6 727.45,395.0 729.99,387.6 732.53,380.4 735.06,373.5 737.60,366.7 740.14,360.2 742.68,353.7 745.22,347.1 747.75,340.5 750.29,333.9 752.83,327.2 755.37,320.4 757.91,313.6 760.44,306.5 762.98,299.1 765.52,291.5 768.06,284.2 770.60,277.4 773.13,271.1 775.67,265.3 778.21,259.8 780.75,254.6 783.29,249.4 785.83,244.4 788.36,239.5 790.90,234.7 793.44,230.1 795.98,225.6 798.52,221.4 801.05,217.4 803.59,213.8 806.13,210.5 808.67,207.4 811.21,204.6 813.74,202.0 816.28,199.6 818.82,197.3 821.36,195.1 823.90,193.0 826.43,190.9 828.97,189.0 831.51,187.1 834.05,185.4 836.59,183.8 839.13,182.3 841.66,181.1 844.20,179.9 846.74,179.0 849.28,178.1 851.82,177.3 854.35,176.7 856.89,176.2 859.43,175.7 861.97,175.2 864.51,174.8 867.04,174.7 869.58,174.6 872.12,174.4 874.66,174.4 877.20,174.5 879.73,174.7 882.27,175.0 884.81,175.4 887.35,175.8 889.89,176.5 892.43,177.3 894.96,178.4 897.50,179.7 900.04,181.4 902.58,183.5 905.12,185.8 907.65,188.5 910.19,191.3 912.73,194.4 915.27,197.5 917.81,200.8 920.34,204.2 922.88,207.5 925.42,210.9 927.96,214.3 930.50,217.6 933.04,221.0 935.57,224.4 938.11,227.9 940.65,231.6 943.19,235.3 945.73,239.3 948.26,243.4 950.80,247.7 953.34,252.1 955.88,256.8 958.42,261.5 960.95,266.4 963.49,271.5 966.03,276.6 968.57,281.9 971.11,287.3 973.64,292.8 976.18,298.4 978.72,304.1 981.26,309.8 983.80,315.6 986.34,321.3 988.87,327.1 991.41,332.9 993.95,338.7 996.49,344.5 999.03,350.2 1001.56,356.0 1004.10,361.7 1006.64,367.5 1009.18,373.4 1011.72,379.5 1014.25,385.7 1016.79,392.0 1019.33,398.3 1021.87,404.8 1024.41,411.3 1026.94,417.9 1029.48,424.6 1032.02,431.4 1034.56,438.3 1037.10,445.3 1039.64,452.3 1042.17,459.4 1044.71,466.5 1047.25,473.6 1049.79,480.7 1052.33,487.8 1054.86,495.0 1057.40,502.2 1059.94,509.5 1062.48,516.9 1065.02,524.4 1067.55,532.1 1070.09,539.9 1072.63,547.8 1075.17,555.7 1077.71,563.7 1080.25,571.7 1082.78,579.7 1085.32,587.8 1087.86,595.8 1090.40,603.8 1092.94,611.8 1095.47,619.8 1098.01,627.8 1100.55,635.6 1103.09,643.3 1105.63,650.9 1108.16,658.2 1110.70,665.3 1113.24,672.1 1115.78,678.5 1118.32,684.6 1120.85,690.2 1123.39,695.3 1125.93,699.9 1128.47,704.1 1131.01,707.7 1133.55,710.9 1136.08,713.7 1138.62,716.3 1141.16,718.7 1143.70,721.2 1146.24,723.6 1148.77,726.1 1151.31,728.6 1153.85,731.0 1156.39,733.4 1158.93,735.7 1161.46,738.1 1164.00,740.3 1166.54,742.6 1169.08,744.9 1171.62,747.2 1174.15,749.7 1176.69,752.3 1179.23,755.2 1181.77,758.5 1184.31,762.0 1186.85,765.8 1189.38,769.9 1191.92,774.3 1194.46,778.9 1197.00,783.7 1199.54,788.6 1202.07,793.6 1204.61,798.8 1207.15,804.0 1209.69,809.2 1212.23,814.5 1214.76,819.8 1217.30,825.2 1219.84,830.7 1222.38,836.3 1224.92,842.0 1227.45,847.9 1229.99,853.9 1232.53,860.1 1235.07,866.4 1237.61,872.8 1240.15,879.3 1242.68,885.9 1245.22,892.5 1247.76,899.0 1250.30,905.6 1252.84,912.1 1255.37,918.6 1257.91,925.1 1260.45,931.5 1262.99,937.9 1265.53,944.2 1268.06,950.4 1270.60,956.6 1273.14,962.8 1275.68,968.9 1278.22,975.0 1280.76,981.1 1283.29,987.3 1285.83,993.4 1288.37,999.5 1290.91,1005.5 1293.45,1011.5 1295.98,1017.4 1298.52,1023.3 1301.06,1029.2 1303.60,1035.2 1306.14,1041.2 1308.67,1047.0 1311.21,1052.6 1313.75,1058.0 1316.29,1063.2 1318.83,1068.3 1321.36,1073.4 1323.90,1078.3 1326.44,1083.2 1328.98,1087.9 1331.52,1092.6 1334.06,1097.2 1336.59,1101.8 1339.13,1106.3 1341.67,1110.7 1344.21,1115.0 1346.75,1119.3 1349.28,1123.5 1351.82,1127.6 1354.36,1131.7 1356.90,1135.7 1359.44,1139.6 1361.97,1143.5 1364.51,1147.3 1367.05,1151.0 1369.59,1154.7 1372.13,1158.3 1374.66,1161.8 1377.20,1165.3 1379.74,1168.7 1382.28,1172.1 1384.82,1175.4 1387.36,1178.6 1389.89,1181.9 1392.43,1185.3 1394.97,1188.6 1397.51,1191.8 1400.05,1194.8 1402.58,1197.7 1405.12,1200.6 1407.66,1203.3 1410.20,1206.0 1412.74,1208.7 1415.27,1211.3 1417.81,1213.8 1420.35,1216.3 1422.89,1218.8 1425.43,1221.2 1427.96,1223.6 1430.50,1225.9 1433.04,1228.1 1435.58,1230.4 1438.12,1232.6 1440.66,1234.7 1443.19,1236.9 1445.73,1238.9 1448.27,1241.0 1450.81,1243.0 1453.35,1245.0 1455.88,1246.9 1458.42,1248.9 1460.96,1250.7 1463.50,1252.6 1466.04,1254.4 1468.57,1256.2 1471.11,1257.9 1473.65,1259.6 1476.19,1261.3 1478.73,1262.9 1481.27,1264.5 1483.80,1266.1 1486.34,1267.6 1488.88,1269.1 1491.42,1270.6 1493.96,1272.0 1496.49,1273.4 1499.03,1274.7 1501.57,1276.1 1504.11,1277.4 1506.65,1278.6 1509.18,1279.9 1511.72,1281.1 1514.26,1282.3 1516.80,1283.5 1519.34,1284.6 1521.87,1285.7 1524.41,1286.8 1526.95,1287.9 1529.49,1289.0 1532.03,1290.0 1534.57,1291.0 1537.10,1292.0 1539.64,1293.0 1542.18,1293.9 1544.72,1294.9 1547.26,1295.8 1549.79,1296.7 1552.33,1297.6 1554.87,1298.4 1557.41,1299.3 1559.95,1300.1 1562.48,1300.9 1565.02,1301.7 1567.56,1302.5 1570.10,1303.3 1572.64,1304.0 1575.17,1304.8 1577.71,1305.5 1580.25,1306.2 1582.79,1306.9 1585.33,1307.5 1587.87,1308.2 1590.40,1308.8 1592.94,1309.4 1595.48,1310.0 1598.02,1310.5 1600.56,1311.1 1603.09,1311.6 1605.63,1312.2 1608.17,1312.7 1610.71,1313.2 1613.25,1313.6 1615.78,1314.1 1618.32,1314.6 1620.86,1315.0 1623.40,1315.4 1625.94,1315.9 1628.48,1316.3 1631.01,1316.7 1633.55,1317.1 1636.09,1317.5 1638.63,1317.9 1641.17,1318.3 1643.70,1318.6 1646.24,1319.0 1648.78,1319.4 1651.32,1319.7 1653.86,1319.7 1656.39,1319.7"/>
<polyline stroke="#515151" points="250.29,1333.6 252.82,1333.6 255.36,1333.6 257.90,1333.6 260.44,1333.4 262.98,1333.1 265.51,1332.7 268.05,1332.3 270.59,1331.9 273.13,1331.5 275.67,1331.1 278.20,1330.7 280.74,1330.2 283.28,1329.7 285.82,1329.3 288.36,1328.8 290.90,1328.2 293.43,1327.7 295.97,1327.1 298.51,1326.6 301.05,1325.9 303.59,1325.3 306.12,1324.7 308.66,1324.0 311.20,1323.3 313.74,1322.6 316.28,1321.8 318.81,1321.0 321.35,1320.2 323.89,1319.3 326.43,1318.5 328.97,1317.6 331.50,1316.6 334.04,1315.6 336.58,1314.6 339.12,1313.6 341.66,1312.5 344.20,1311.4 346.73,1310.2 349.27,1309.0 351.81,1307.8 354.35,1306.5 356.89,1305.1 359.42,1303.8 361.96,1302.4 364.50,1300.9 367.04,1299.4 369.58,1297.9 372.11,1296.3 374.65,1294.7 377.19,1293.0 379.73,1291.3 382.27,1289.5 384.81,1287.7 387.34,1285.9 389.88,1283.9 392.42,1282.0 394.96,1279.9 397.50,1277.8 400.03,1275.6 402.57,1273.3 405.11,1270.8 407.65,1268.3 410.19,1265.7 412.72,1262.9 415.26,1260.0 417.80,1257.1 420.34,1254.2 422.88,1251.2 425.41,1248.3 427.95,1245.3 430.49,1242.4 433.03,1239.4 435.57,1236.4 438.11,1233.4 440.64,1230.3 443.18,1227.2 445.72,1224.0 448.26,1220.8 450.80,1217.4 453.33,1214.1 455.87,1210.6 458.41,1207.1 460.95,1203.5 463.49,1199.9 466.02,1196.3 468.56,1192.9 471.10,1190.3 473.64,1188.0 476.18,1185.0 478.71,1181.3 481.25,1177.2 483.79,1172.9 486.33,1168.5 488.87,1164.0 491.41,1159.5 493.94,1154.8 496.48,1150.1 499.02,1145.3 501.56,1140.4 504.10,1135.4 506.63,1130.4 509.17,1125.4 511.71,1120.2 514.25,1115.1 516.79,1109.8 519.32,1104.6 521.86,1099.2 524.40,1093.8 526.94,1088.3 529.48,1082.7 532.02,1077.0 534.55,1071.2 537.09,1065.4 539.63,1059.6 542.17,1053.8 544.71,1048.2 547.24,1042.8 549.78,1037.7 552.32,1032.6 554.86,1027.1 557.40,1021.2 559.93,1015.1 562.47,1008.8 565.01,1002.4 567.55,995.9 570.09,989.2 572.62,982.4 575.16,975.4 577.70,968.1 580.24,960.7 582.78,953.3 585.32,946.1 587.85,939.0 590.39,932.0 592.93,925.2 595.47,918.3 598.01,911.3 600.54,904.3 603.08,897.2 605.62,889.9 608.16,882.7 610.70,875.4 613.23,868.3 615.77,861.3 618.31,854.3 620.85,847.4 623.39,840.5 625.92,833.7 628.46,826.8 631.00,820.0 633.54,813.3 636.08,806.6 638.62,799.8 641.15,793.1 643.69,786.3 646.23,779.5 648.77,772.7 651.31,766.0 653.84,759.4 656.38,752.8 658.92,746.4 661.46,740.2 664.00,734.1 666.53,727.9 669.07,721.6 671.61,715.2 674.15,708.8 676.69,702.4 679.22,695.9 681.76,689.5 684.30,683.0 686.84,676.6 689.38,670.0 691.92,663.4 694.45,656.8 696.99,650.4 699.53,644.1 702.07,638.0 704.61,632.0 707.14,626.0 709.68,620.1 712.22,614.2 714.76,608.2 717.30,602.1 719.83,595.8 722.37,589.6 724.91,583.6 727.45,578.0 729.99,572.6 732.53,567.4 735.06,562.4 737.60,557.4 740.14,552.6 742.68,547.9 745.22,543.3 747.75,538.9 750.29,534.6 752.83,530.4 755.37,526.2 757.91,522.2 760.44,518.1 762.98,514.0 765.52,509.8 768.06,505.5 770.60,501.3 773.13,497.0 775.67,492.8 778.21,488.7 780.75,484.8 783.29,481.2 785.83,477.9 788.36,475.0 790.90,472.4 793.44,470.1 795.98,468.2 798.52,466.4 801.05,464.8 803.59,463.2 806.13,461.5 808.67,459.8 811.21,457.9 813.74,455.9 816.28,453.8 818.82,451.8 821.36,450.0 823.90,448.2 826.43,446.7 828.97,445.5 831.51,444.5 834.05,443.9 836.59,443.5 839.13,443.8 841.66,444.5 844.20,444.8 846.74,444.8 849.28,444.8 851.82,445.0 854.35,444.9 856.89,444.3 859.43,443.6 861.97,443.6 864.51,444.2 867.04,445.1 869.58,446.2 872.12,447.6 874.66,449.0 877.20,450.6 879.73,452.4 882.27,454.2 884.81,456.1 887.35,458.2 889.89,460.3 892.43,462.6 894.96,464.9 897.50,467.5 900.04,470.1 902.58,473.0 905.12,476.1 907.65,479.5 910.19,483.2 912.73,487.2 915.27,491.5 917.81,496.2 920.34,501.1 922.88,506.1 925.42,511.3 927.96,516.6 930.50,522.0 933.04,527.4 935.57,532.7 938.11,538.0 940.65,543.3 943.19,548.5 945.73,553.8 948.26,559.0 950.80,564.3 953.34,569.5 955.88,574.8 958.42,580.0 960.95,584.9 963.49,589.5 966.03,593.9 968.57,598.5 971.11,603.6 973.64,609.0 976.18,614.6 978.72,620.4 981.26,626.2 983.80,632.1 986.34,638.0 988.87,643.9 991.41,649.7 993.95,655.3 996.49,660.6 999.03,665.8 1001.56,671.3 1004.10,677.1 1006.64,683.1 1009.18,689.3 1011.72,695.5 1014.25,701.8 1016.79,708.1 1019.33,714.4 1021.87,720.6 1024.41,726.8 1026.94,733.0 1029.48,739.0 1032.02,745.1 1034.56,751.3 1037.10,757.5 1039.64,763.8 1042.17,770.1 1044.71,776.5 1047.25,782.8 1049.79,789.1 1052.33,795.3 1054.86,801.6 1057.40,807.8 1059.94,813.9 1062.48,820.1 1065.02,826.2 1067.55,832.4 1070.09,838.5 1072.63,844.6 1075.17,850.8 1077.71,856.9 1080.25,863.0 1082.78,869.2 1085.32,875.3 1087.86,881.4 1090.40,887.5 1092.94,893.5 1095.47,899.5 1098.01,905.4 1100.55,911.3 1103.09,917.1 1105.63,922.8 1108.16,928.4 1110.70,933.9 1113.24,939.2 1115.78,944.5 1118.32,949.5 1120.85,954.4 1123.39,959.1 1125.93,963.6 1128.47,967.7 1131.01,971.6 1133.55,975.3 1136.08,978.8 1138.62,982.2 1141.16,985.4 1143.70,988.5 1146.24,991.5 1148.77,994.4 1151.31,997.2 1153.85,999.9 1156.39,1002.6 1158.93,1005.1 1161.46,1007.7 1164.00,1010.2 1166.54,1012.7 1169.08,1015.3 1171.62,1017.9 1174.15,1020.6 1176.69,1023.4 1179.23,1026.3 1181.77,1029.2 1184.31,1032.2 1186.85,1035.3 1189.38,1038.5 1191.92,1041.7 1194.46,1045.1 1197.00,1048.5 1199.54,1051.9 1202.07,1055.5 1204.61,1059.1 1207.15,1062.8 1209.69,1066.6 1212.23,1070.4 1214.76,1074.1 1217.30,1077.9 1219.84,1081.7 1222.38,1085.5 1224.92,1089.3 1227.45,1093.1 1229.99,1097.0 1232.53,1100.8 1235.07,1104.7 1237.61,1108.6 1240.15,1112.4 1242.68,1116.3 1245.22,1120.1 1247.76,1124.0 1250.30,1127.8 1252.84,1131.6 1255.37,1135.4 1257.91,1139.2 1260.45,1143.0 1262.99,1146.8 1265.53,1150.6 1268.06,1154.5 1270.60,1158.3 1273.14,1162.2 1275.68,1166.2 1278.22,1170.1 1280.76,1174.0 1283.29,1177.9 1285.83,1181.7 1288.37,1185.4 1290.91,1189.1 1293.45,1192.6 1295.98,1196.0 1298.52,1199.4 1301.06,1202.6 1303.60,1205.7 1306.14,1208.7 1308.67,1211.6 1311.21,1214.5 1313.75,1217.3 1316.29,1220.0 1318.83,1222.7 1321.36,1225.3 1323.90,1227.8 1326.44,1230.3 1328.98,1232.7 1331.52,1235.0 1334.06,1237.2 1336.59,1239.4 1339.13,1241.7 1341.67,1244.0 1344.21,1246.2 1346.75,1248.5 1349.28,1250.6 1351.82,1252.7 1354.36,1254.6 1356.90,1256.5 1359.44,1258.4 1361.97,1260.3 1364.51,1262.2 1367.05,1264.2 1369.59,1266.2 1372.13,1268.2 1374.66,1270.1 1377.20,1271.9 1379.74,1273.6 1382.28,1275.3 1384.82,1276.9 1387.36,1278.5 1389.89,1280.0 1392.43,1281.5 1394.97,1282.9 1397.51,1284.3 1400.05,1285.6 1402.58,1286.9 1405.12,1288.2 1407.66,1289.4 1410.20,1290.6 1412.74,1291.8 1415.27,1292.9 1417.81,1294.1 1420.35,1295.2 1422.89,1296.2 1425.43,1297.3 1427.96,1298.3 1430.50,1299.2 1433.04,1300.2 1435.58,1301.2 1438.12,1302.1 1440.66,1303.0 1443.19,1303.9 1445.73,1304.7 1448.27,1305.6 1450.81,1306.4 1453.35,1307.2 1455.88,1308.0 1458.42,1308.8 1460.96,1309.6 1463.50,1310.3 1466.04,1311.1 1468.57,1311.8 1471.11,1312.5 1473.65,1313.2 1476.19,1313.9 1478.73,1314.6 1481.27,1315.2 1483.80,1315.9 1486.34,1316.5 1488.88,1317.1 1491.42,1317.8 1493.96,1318.3 1496.49,1318.9 1499.03,1319.5 1501.57,1320.0 1504.11,1320.5 1506.65,1321.1 1509.18,1321.5 1511.72,1322.0 1514.26,1322.5 1516.80,1322.9 1519.34,1323.3 1521.87,1323.7 1524.41,1324.1 1526.95,1324.5 1529.49,1324.8 1532.03,1325.2 1534.57,1325.5 1537.10,1325.8 1539.64,1326.1 1542.18,1326.4 1544.72,1326.7 1547.26,1327.0 1549.79,1327.2 1552.33,1327.5 1554.87,1327.8 1557.41,1328.0 1559.95,1328.3 1562.48,1328.5 1565.02,1328.8 1567.56,1329.0 1570.10,1329.2 1572.64,1329.5 1575.17,1329.7 1577.71,1330.0 1580.25,1330.2 1582.79,1330.4 1585.33,1330.7 1587.87,1330.9 1590.40,1331.1 1592.94,1331.4 1595.48,1331.6 1598.02,1331.9 1600.56,1332.1 1603.09,1332.4 1605.63,1332.6 1608.17,1332.8 1610.71,1333.1 1613.25,1333.3 1615.78,1333.6 1618.32,1333.8 1620.86,1334.0 1623.40,1334.3 1625.94,1334.5 1628.48,1334.8 1631.01,1335.0 1633.55,1335.3 1636.09,1335.6 1638.63,1335.9 1641.17,1336.2 1643.70,1336.6 1646.24,1337.0 1648.78,1337.4 1651.32,1337.6 1653.86,1337.5 1656.39,1337.3"/>
<polyline stroke="#006EE6" points="250.29,1321.5 252.82,1321.4 255.36,1321.4 257.90,1321.3 260.44,1321.1 262.98,1320.8 265.51,1320.4 268.05,1319.9 270.59,1319.4 273.13,1318.8 275.67,1318.1 278.20,1317.4 280.74,1316.6 283.28,1315.7 285.82,1314.8 288.36,1313.8 290.90,1312.7 293.43,1311.6 295.97,1310.4 298.51,1309.2 301.05,1307.9 303.59,1306.5 306.12,1305.1 308.66,1303.6 311.20,1302.1 313.74,1300.5 316.28,1298.8 318.81,1297.1 321.35,1295.3 323.89,1293.4 326.43,1291.4 328.97,1289.4 331.50,1287.3 334.04,1285.2 336.58,1283.0 339.12,1280.7 341.66,1278.3 344.20,1275.9 346.73,1273.4 349.27,1270.8 351.81,1268.2 354.35,1265.5 356.89,1262.8 359.42,1260.1 361.96,1257.2 364.50,1254.4 367.04,1251.5 369.58,1248.5 372.11,1245.4 374.65,1242.2 377.19,1238.9 379.73,1235.6 382.27,1232.2 384.81,1228.6 387.34,1225.1 389.88,1221.4 392.42,1217.6 394.96,1213.8 397.50,1209.9 400.03,1205.8 402.57,1201.7 405.11,1197.5 407.65,1193.1 410.19,1188.7 412.72,1184.2 415.26,1179.6 417.80,1175.0 420.34,1170.4 422.88,1165.8 425.41,1161.1 427.95,1156.5 430.49,1151.7 433.03,1146.9 435.57,1142.1 438.11,1137.3 440.64,1132.3 443.18,1127.4 445.72,1122.4 448.26,1117.6 450.80,1112.8 453.33,1107.9 455.87,1102.9 458.41,1097.6 460.95,1092.2 463.49,1086.7 466.02,1081.1 468.56,1075.4 471.10,1069.7 473.64,1063.9 476.18,1058.0 478.71,1052.2 481.25,1046.3 483.79,1040.5 486.33,1034.6 488.87,1028.6 491.41,1022.6 493.94,1016.4 496.48,1010.1 499.02,1003.8 501.56,997.4 504.10,990.9 506.63,984.3 509.17,977.5 511.71,970.4 514.25,963.2 516.79,955.9 519.32,948.7 521.86,941.7 524.40,934.8 526.94,928.0 529.48,921.3 532.02,914.4 534.55,907.4 537.09,900.3 539.63,892.9 542.17,885.3 544.71,877.8 547.24,870.5 549.78,863.5 552.32,856.6 554.86,849.8 557.40,843.1 559.93,836.4 562.47,829.8 565.01,823.4 567.55,817.1 570.09,810.9 572.62,804.7 575.16,798.3 577.70,791.9 580.24,785.5 582.78,779.0 585.32,772.5 587.85,766.1 590.39,759.6 592.93,753.2 595.47,746.8 598.01,740.4 600.54,734.1 603.08,727.8 605.62,721.5 608.16,715.4 610.70,709.3 613.23,703.2 615.77,697.2 618.31,691.3 620.85,685.5 623.39,679.8 625.92,674.2 628.46,669.0 631.00,664.0 633.54,659.3 636.08,654.4 638.62,649.4 641.15,644.3 643.69,639.2 646.23,634.1 648.77,629.2 651.31,624.4 653.84,619.7 656.38,615.2 658.92,610.8 661.46,606.6 664.00,602.4 666.53,598.2 669.07,594.0 671.61,589.8 674.15,585.6 676.69,581.4 679.22,577.3 681.76,573.2 684.30,569.2 686.84,565.4 689.38,561.7 691.92,558.1 694.45,554.6 696.99,551.1 699.53,547.8 702.07,544.5 704.61,541.3 707.14,538.1 709.68,535.1 712.22,532.2 714.76,529.6 717.30,527.1 719.83,524.9 722.37,523.0 724.91,521.4 727.45,520.0 729.99,518.7 732.53,517.6 735.06,516.5 737.60,515.4 740.14,514.2 742.68,512.9 745.22,511.5 747.75,510.0 750.29,508.6 752.83,507.2 755.37,505.9 757.91,504.7 760.44,503.7 762.98,502.9 765.52,502.2 768.06,501.7 770.60,501.6 773.13,501.7 775.67,501.5 778.21,500.7 780.75,500.0 783.29,500.3 785.83,501.3 788.36,502.6 790.90,504.1 793.44,505.8 795.98,507.7 798.52,509.7 801.05,511.9 803.59,514.4 806.13,516.9 808.67,519.6 811.21,522.3 813.74,525.1 816.28,527.8 818.82,530.5 821.36,533.2 823.90,535.8 826.43,538.4 828.97,541.1 831.51,543.8 834.05,546.7 836.59,549.7 839.13,553.0 841.66,556.4 844.20,559.9 846.74,563.6 849.28,567.5 851.82,571.5 854.35,575.7 856.89,580.3 859.43,585.4 861.97,591.0 864.51,596.9 867.04,602.5 869.58,607.8 872.12,612.8 874.66,617.8 877.20,622.7 879.73,627.8 882.27,632.8 884.81,638.0 887.35,643.2 889.89,648.4 892.43,653.7 894.96,659.0 897.50,664.4 900.04,669.8 902.58,675.3 905.12,680.8 907.65,686.5 910.19,692.2 912.73,697.9 915.27,703.6 917.81,709.5 920.34,715.3 922.88,721.2 925.42,727.1 927.96,733.1 930.50,739.2 933.04,745.2 935.57,751.3 938.11,757.3 940.65,763.4 943.19,769.5 945.73,775.6 948.26,781.7 950.80,787.8 953.34,793.9 955.88,800.1 958.42,806.4 960.95,812.6 963.49,818.8 966.03,824.9 968.57,830.9 971.11,836.9 973.64,842.9 976.18,848.8 978.72,854.7 981.26,860.5 983.80,866.2 986.34,871.7 988.87,876.9 991.41,881.7 993.95,886.4 996.49,891.1 999.03,896.1 1001.56,901.5 1004.10,907.1 1006.64,912.8 1009.18,918.5 1011.72,924.1 1014.25,929.5 1016.79,934.7 1019.33,939.7 1021.87,944.4 1024.41,949.1 1026.94,954.0 1029.48,959.1 1032.02,964.6 1034.56,970.3 1037.10,976.1 1039.64,981.9 1042.17,987.6 1044.71,993.0 1047.25,998.3 1049.79,1003.4 1052.33,1008.4 1054.86,1013.5 1057.40,1018.8 1059.94,1024.3 1062.48,1030.1 1065.02,1036.1 1067.55,1042.1 1070.09,1047.9 1072.63,1053.4 1075.17,1058.8 1077.71,1064.1 1080.25,1069.3 1082.78,1074.5 1085.32,1079.6 1087.86,1084.7 1090.40,1089.8 1092.94,1094.7 1095.47,1099.6 1098.01,1104.4 1100.55,1109.0 1103.09,1113.4 1105.63,1117.6 1108.16,1121.5 1110.70,1125.2 1113.24,1128.7 1115.78,1132.0 1118.32,1135.1 1120.85,1138.1 1123.39,1140.8 1125.93,1143.4 1128.47,1145.9 1131.01,1148.2 1133.55,1150.4 1136.08,1152.6 1138.62,1154.7 1141.16,1156.7 1143.70,1158.7 1146.24,1160.6 1148.77,1162.5 1151.31,1164.4 1153.85,1166.3 1156.39,1168.2 1158.93,1170.1 1161.46,1172.0 1164.00,1174.1 1166.54,1176.1 1169.08,1178.2 1171.62,1180.3 1174.15,1182.5 1176.69,1184.7 1179.23,1186.8 1181.77,1189.0 1184.31,1191.2 1186.85,1193.4 1189.38,1195.5 1191.92,1197.7 1194.46,1199.9 1197.00,1202.1 1199.54,1204.3 1202.07,1206.5 1204.61,1208.7 1207.15,1210.9 1209.69,1213.2 1212.23,1215.4 1214.76,1217.7 1217.30,1220.0 1219.84,1222.2 1222.38,1224.4 1224.92,1226.6 1227.45,1228.8 1229.99,1231.0 1232.53,1233.3 1235.07,1235.7 1237.61,1238.1 1240.15,1240.6 1242.68,1243.1 1245.22,1245.6 1247.76,1248.0 1250.30,1250.4 1252.84,1252.6 1255.37,1254.7 1257.91,1256.7 1260.45,1258.7 1262.99,1260.7 1265.53,1262.6 1268.06,1264.4 1270.60,1266.2 1273.14,1267.9 1275.68,1269.6 1278.22,1271.2 1280.76,1272.8 1283.29,1274.4 1285.83,1275.9 1288.37,1277.3 1290.91,1278.7 1293.45,1280.0 1295.98,1281.2 1298.52,1282.5 1301.06,1283.7 1303.60,1285.0 1306.14,1286.3 1308.67,1287.6 1311.21,1289.0 1313.75,1290.3 1316.29,1291.6 1318.83,1292.9 1321.36,1294.2 1323.90,1295.5 1326.44,1296.7 1328.98,1298.0 1331.52,1299.2 1334.06,1300.3 1336.59,1301.5 1339.13,1302.5 1341.67,1303.6 1344.21,1304.6 1346.75,1305.6 1349.28,1306.6 1351.82,1307.5 1354.36,1308.5 1356.90,1309.3 1359.44,1310.2 1361.97,1311.0 1364.51,1311.8 1367.05,1312.6 1369.59,1313.4 1372.13,1314.1 1374.66,1314.9 1377.20,1315.6 1379.74,1316.2 1382.28,1316.9 1384.82,1317.5 1387.36,1318.0 1389.89,1318.6 1392.43,1319.1 1394.97,1319.7 1397.51,1320.2 1400.05,1320.7 1402.58,1321.2 1405.12,1321.6 1407.66,1322.1 1410.20,1322.6 1412.74,1323.0 1415.27,1323.5 1417.81,1323.9 1420.35,1324.3 1422.89,1324.7 1425.43,1325.1 1427.96,1325.5 1430.50,1325.9 1433.04,1326.3 1435.58,1326.6 1438.12,1327.0 1440.66,1327.3 1443.19,1327.7 1445.73,1328.0 1448.27,1328.3 1450.81,1328.7 1453.35,1329.0 1455.88,1329.3 1458.42,1329.6 1460.96,1329.9 1463.50,1330.1 1466.04,1330.4 1468.57,1330.7 1471.11,1330.9 1473.65,1331.2 1476.19,1331.4 1478.73,1331.7 1481.27,1331.9 1483.80,1332.1 1486.34,1332.3 1488.88,1332.5 1491.42,1332.7 1493.96,1332.9 1496.49,1333.1 1499.03,1333.3 1501.57,1333.5 1504.11,1333.6 1506.65,1333.8 1509.18,1333.9 1511.72,1334.1 1514.26,1334.2 1516.80,1334.4 1519.34,1334.5 1521.87,1334.6 1524.41,1334.7 1526.95,1334.9 1529.49,1335.0 1532.03,1335.1 1534.57,1335.1 1537.10,1335.2 1539.64,1335.3 1542.18,1335.4 1544.72,1335.5 1547.26,1335.5 1549.79,1335.6 1552.33,1335.6 1554.87,1335.7 1557.41,1335.7 1559.95,1335.7 1562.48,1335.8 1565.02,1335.8 1567.56,1335.8 1570.10,1335.8 1572.64,1335.9 1575.17,1335.9 1577.71,1335.9 1580.25,1335.8 1582.79,1335.8 1585.33,1335.8 1587.87,1335.8 1590.40,1335.7 1592.94,1335.6 1595.48,1335.6 1598.02,1335.5 1600.56,1335.4 1603.09,1335.3 1605.63,1335.2 1608.17,1335.1 1610.71,1335.0 1613.25,1334.9 1615.78,1334.8 1618.32,1334.8 1620.86,1334.7 1623.40,1334.6 1625.94,1334.6 1628.48,1334.5 1631.01,1334.5 1633.55,1334.5 1636.09,1334.5 1638.63,1334.5 1641.17,1334.6 1643.70,1334.6 1646.24,1334.7 1648.78,1334.7 1651.32,1334.8 1653.86,1334.8 1656.39,1334.7"/>
</g></g>
<g shape-rendering="crispEdges">
<rect x="287.45" y="64.45" width="6.50" height="1306.25" fill="#000"/>
<rect x="1875.35" y="64.45" width="6.50" height="1293.25" fill="#000"/>
<rect x="263.40" y="64.45" width="1618.45" height="6.50" fill="#000"/>
<rect x="263.40" y="1343.05" width="1618.45" height="6.50" fill="#000"/>
<rect x="263.40" y="1129.95" width="27.30" height="6.50" fill="#000"/>
<rect x="263.40" y="916.85" width="27.30" height="6.50" fill="#000"/>
<rect x="263.40" y="703.75" width="27.30" height="6.50" fill="#000"/>
<rect x="263.40" y="490.65" width="27.30" height="6.50" fill="#000"/>
<rect x="263.40" y="277.55" width="27.30" height="6.50" fill="#000"/>
<rect x="276.60" y="1236.50" width="14.10" height="6.50" fill="#000"/>
<rect x="276.60" y="1023.40" width="14.10" height="6.50" fill="#000"/>
<rect x="276.60" y="810.30" width="14.10" height="6.50" fill="#000"/>
<rect x="276.60" y="597.20" width="14.10" height="6.50" fill="#000"/>
<rect x="276.60" y="384.10" width="14.10" height="6.50" fill="#000"/>
<rect x="276.60" y="171.00" width="14.10" height="6.50" fill="#000"/>
<rect x="576.16" y="1346.30" width="6.50" height="24.40" fill="#000"/>
<rect x="864.87" y="1346.30" width="6.50" height="24.40" fill="#000"/>
<rect x="1153.58" y="1346.30" width="6.50" height="24.40" fill="#000"/>
<rect x="1442.29" y="1346.30" width="6.50" height="24.40" fill="#000"/>
<rect x="1731.00" y="1346.30" width="6.50" height="24.40" fill="#000"/>
<rect x="431.80" y="1346.30" width="6.50" height="11.40" fill="#000"/>
<rect x="720.51" y="1346.30" width="6.50" height="11.40" fill="#000"/>
<rect x="1009.22" y="1346.30" width="6.50" height="11.40" fill="#000"/>
<rect x="1297.93" y="1346.30" width="6.50" height="11.40" fill="#000"/>
<rect x="1586.64" y="1346.30" width="6.50" height="11.40" fill="#000"/>
</g>
<text class="tk" transform="translate(245.2 1360.1) scale(1.010 1)" text-anchor="end">0</text>
<text class="tk" transform="translate(245.2 1147.0) scale(1.010 1)" text-anchor="end">3500</text>
<text class="tk" transform="translate(245.2 933.9) scale(1.010 1)" text-anchor="end">7000</text>
<text class="tk" transform="translate(245.2 720.8) scale(1.010 1)" text-anchor="end">10500</text>
<text class="tk" transform="translate(245.2 507.7) scale(1.010 1)" text-anchor="end">14000</text>
<text class="tk" transform="translate(245.2 294.6) scale(1.010 1)" text-anchor="end">17500</text>
<text class="tk" transform="translate(245.2 81.5) scale(1.010 1)" text-anchor="end">21000</text>
<text class="tk" transform="translate(289.9 1428.6) scale(1.012 1)" text-anchor="middle">500</text>
<text class="tk" transform="translate(578.6 1428.6) scale(1.012 1)" text-anchor="middle">550</text>
<text class="tk" transform="translate(867.3 1428.6) scale(1.012 1)" text-anchor="middle">600</text>
<text class="tk" transform="translate(1156.0 1428.6) scale(1.012 1)" text-anchor="middle">650</text>
<text class="tk" transform="translate(1444.7 1428.6) scale(1.012 1)" text-anchor="middle">700</text>
<text class="tk" transform="translate(1733.4 1428.6) scale(1.012 1)" text-anchor="middle">750</text>
<text class="ttl" transform="translate(1082.5 1537.2) scale(1.012 1)" text-anchor="middle">Wavelength/nm</text>
<text class="ttl" transform="translate(68.5 705.6) rotate(-90) scale(1.006 1)" text-anchor="middle">Emission Intensity (a.u)</text>
<rect x="1406.8" y="108.8" width="426.4" height="501.8" fill="#fff" stroke="#000" stroke-width="2" shape-rendering="crispEdges"/>
<rect x="1412" y="148.7" width="156" height="9" fill="#8F8F00" shape-rendering="crispEdges"/>
<text class="lg" transform="translate(1583.0 174.7) scale(1.008 1)" text-anchor="start">L</text>
<rect x="1412" y="230.8" width="156" height="9" fill="#515151" shape-rendering="crispEdges"/>
<text class="lg" transform="translate(1583.0 256.6) scale(1.008 1)" text-anchor="start">L+Fe(II)</text>
<rect x="1412" y="313.0" width="156" height="9" fill="#C278E0" shape-rendering="crispEdges"/>
<text class="lg" transform="translate(1583.0 338.5) scale(1.008 1)" text-anchor="start">L+Zn(II)</text>
<rect x="1412" y="393.0" width="156" height="9" fill="#4198D0" shape-rendering="crispEdges"/>
<text class="lg" transform="translate(1583.0 420.4) scale(1.008 1)" text-anchor="start">L+Co(II)</text>
<rect x="1412" y="475.1" width="156" height="9" fill="#515151" shape-rendering="crispEdges"/>
<text class="lg" transform="translate(1583.0 502.3) scale(1.008 1)" text-anchor="start">L+Ni(II)</text>
<rect x="1412" y="557.5" width="156" height="9" fill="#006EE6" shape-rendering="crispEdges"/>
<text class="lg" transform="translate(1583.0 584.2) scale(1.008 1)" text-anchor="start">L+Cu(II)</text>
</svg>
</body>
</html>
